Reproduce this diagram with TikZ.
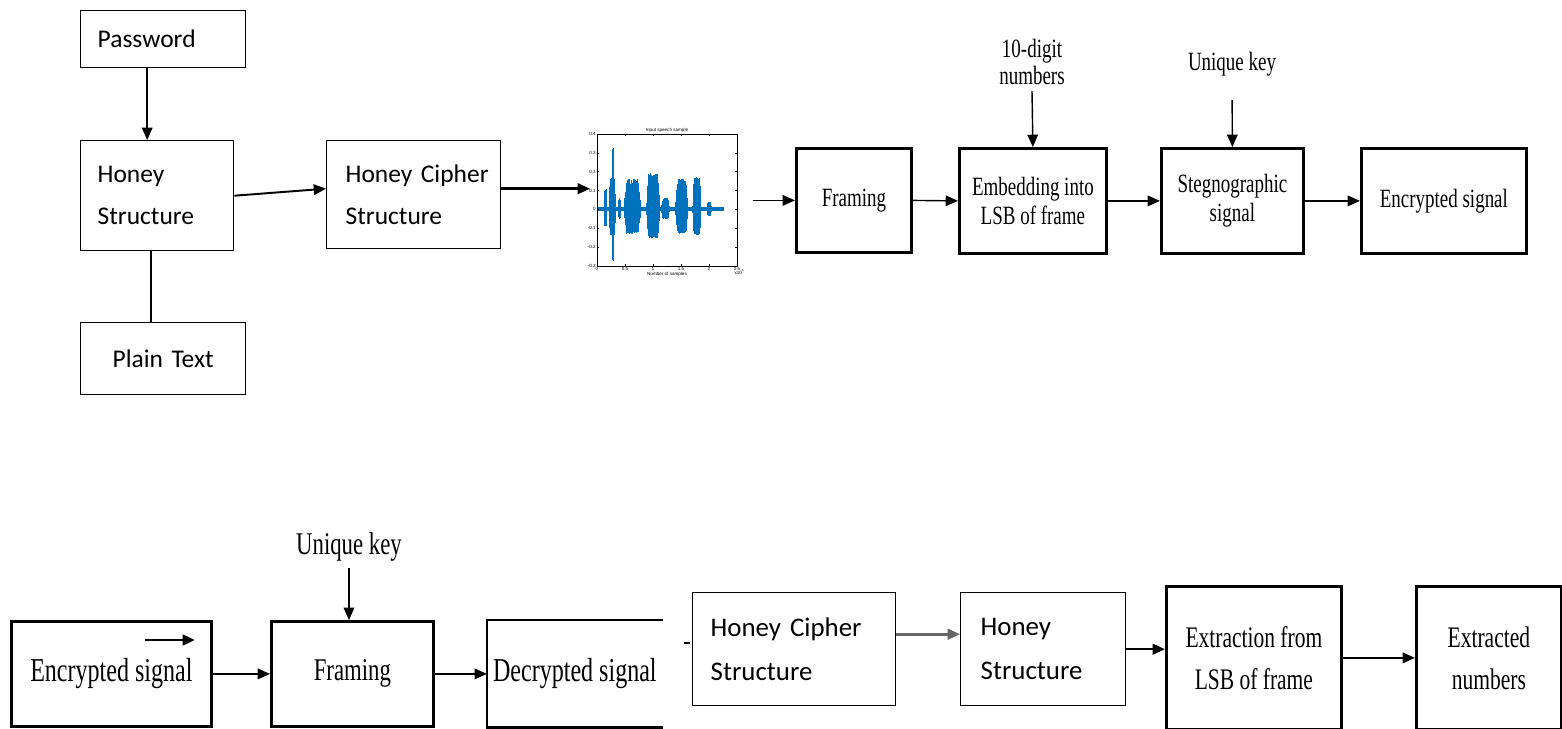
\documentclass[tikz,border=0pt]{standalone}
\usepackage{fontspec}
\usetikzlibrary{arrows.meta}
\newfontfamily\calib{Carlito}
\newfontfamily\tms[FakeStretch=0.72]{Liberation Serif}
\newfontfamily\arl{Liberation Sans}
\definecolor{wavec}{RGB}{0,114,189}

\begin{document}
\begin{tikzpicture}[x=0.02cm, y=-0.02cm, >={Triangle[length=7pt,width=6pt]},
  sbox/.style={draw, line width=0.8pt, anchor=north west, align=left, inner ysep=0pt, font=\calib\fontsize{14.5pt}{24pt}\selectfont},
  sboxb/.style={sbox, font=\calib\fontsize{15.3pt}{25pt}\selectfont},
  tbox/.style={draw, line width=1.6pt, anchor=north west, align=center, inner sep=0pt, font=\tms\fontsize{15pt}{16.5pt}\selectfont},
  tboxb/.style={tbox, font=\tms\fontsize{19pt}{24pt}\selectfont},
  tboxc/.style={tbox, font=\tms\fontsize{17pt}{24pt}\selectfont},
  arr/.style={->, line width=0.8pt},
  tick/.style={font=\arl\fontsize{2.6pt}{3pt}\selectfont, inner sep=0.6pt},
  declare function={bmp(\t,\c,\w,\a)=(abs(\t-\c)<\w)*\a*min(1,2*cos(90*(\t-\c)/\w));}]
\useasboundingbox (0,0) rectangle (1562,728);

% encryption side
\node[sbox, minimum height=1.14cm, text width=2.62cm, inner xsep=0.34cm] (pw) at (80,10) {Password};
\node[sbox, minimum height=2.2cm, text width=2.38cm, inner xsep=0.34cm] (hs) at (80,140) {Honey\\Structure};
\node[sbox, minimum height=1.44cm, text width=2.62cm, inner xsep=0.34cm, align=center] (pt) at (80,322) {Plain Text};
\node[sbox, minimum height=2.16cm, text width=3.2cm, inner xsep=0.14cm] (hcs) at (326,140) {\hspace*{0.24cm}Honey Cipher\\\hspace*{0.24cm}Structure};
\node[minimum width=3.04cm, minimum height=3.2cm, inner sep=0pt, anchor=north west] (wave) at (590,130) {};
\node[tbox, minimum width=2.3cm, minimum height=2.08cm] (fr) at (795,147) {Framing};
\node[tbox, minimum width=2.94cm, minimum height=2.1cm] (emb) at (958,147) {Embedding into\\LSB of frame};
\node[tbox, minimum width=2.84cm, minimum height=2.1cm] (steg) at (1160,147) {Stegnographic\\signal};
\node[tbox, minimum width=3.3cm, minimum height=2.1cm] (enc) at (1360,147) {Encrypted signal};
\node[font=\tms\fontsize{15pt}{15.4pt}\selectfont, align=center] (digits) at (1032,62) {10-digit\\numbers};
\node[font=\tms\fontsize{15pt}{16pt}\selectfont] (key) at (1232,64) {Unique key};

\draw[arr] ([xshift=-0.2cm]hs.north |- pw.south) -- ([xshift=-0.2cm]hs.north);
\draw[line width=0.8pt] ([xshift=-0.12cm]hs.south) -- ([xshift=-0.12cm]hs.south |- pt.north);
\draw[->, line width=1.1pt] (hs.east) -- ([yshift=0.12cm]hcs.west);
\draw[->, line width=1.4pt] ([yshift=0.12cm]hcs.east) -- ([yshift=0.12cm]hcs.east -| wave.west);
\draw[arr] ([xshift=0.2cm]wave.east |- fr.west) -- (fr.west);
\draw[arr] (fr.east) -- (emb.west); \draw[arr] (emb.east) -- (steg.west); \draw[arr] (steg.east) -- (enc.west);
\draw[arr] (digits.south) -- (emb.north); \draw[arr, shorten <=0.36cm] (key.south) -- (steg.north);

% speech plot
\begin{scope}[shift={(597,209.4)}, x=1.12cm, y=3.772cm]
\pgfmathsetseed{3}
\foreach \t in {0,0.005,...,2.25} {
  \pgfmathsetmacro\env{0.012+bmp(\t,0.15,0.025,0.1)+bmp(\t,0.27,0.06,0.16)+bmp(\t,0.28,0.02,0.17)+bmp(\t,0.40,0.02,0.05)+bmp(\t,0.63,0.15,0.15)+bmp(\t,1.0,0.12,0.18)+bmp(\t,1.22,0.07,0.05)+bmp(\t,1.51,0.11,0.15)+bmp(\t,1.78,0.075,0.16)+bmp(\t,2.0,0.04,0.03)}
  \pgfmathsetmacro\up{\env*(0.8+0.2*rnd)} \pgfmathsetmacro\dn{-\env*(0.7+0.1*rnd)}
  \draw[wavec, line width=0.35pt] (\t,\dn) -- (\t,\up);
}
\draw[line width=0.3pt] (0,-0.3) rectangle (2.5,0.4);
\foreach \v [count=\i] in {-0.3,-0.2,-0.1,0,0.1,0.2,0.3,0.4} { \draw[line width=0.3pt] (0,\v) -- ++(0.04,0) (2.5,\v) -- ++(-0.04,0); \node[tick, left] (yl\i) at (0,\v) {\v}; };
\foreach \v [count=\i] in {0,0.5,1,1.5,2,2.5} { \draw[line width=0.3pt] (\v,-0.3) -- ++(0,0.012) (\v,0.4) -- ++(0,-0.012); \node[tick, below] (xl\i) at (\v,-0.3) {\v}; };
\node[tick, above] (ttl) at (1.25,0.4) {Input speech sample};
\node[tick, below=3pt] (xlab) at (1.25,-0.3) {Number of samples};
\node[tick, below right=1pt] (xexp) at (2.4,-0.3) {x10\textsuperscript{4}};
\end{scope}

% decryption side
\node[tboxb, minimum width=4cm, minimum height=2.1cm] (enc2) at (10,620) {Encrypted signal};
\coordinate (sa) at (145,640); \coordinate (sb) at (195,640);
\draw[->, line width=1.5pt] (sa) -- (sb);
\node[tboxb, minimum width=3.24cm, minimum height=2.1cm, font=\tms\fontsize{18pt}{24pt}\selectfont] (fr2) at (270,620) {Framing};
\node[font=\tms\fontsize{18pt}{20pt}\selectfont] (key2) at (349,547) {Unique key};
\node[tboxb, draw=none, minimum width=3.46cm, minimum height=2.1cm] (dec) at (487,620) {Decrypted signal};
\draw[line width=1.6pt] (dec.north east) -- (dec.north west) -- (dec.south west) -- (dec.south east);
\draw[arr] (enc2.east) -- (fr2.west); \draw[arr] (fr2.east) -- (dec.west);
\draw[arr] (key2.south) -- (key2.south |- fr2.north);
\coordinate (tk1) at (684,643); \coordinate (tk2) at (690,643);
\draw[line width=0.8pt] (tk1) -- (tk2);

\node[sboxb, minimum height=2.26cm, text width=3.34cm, inner xsep=0.36cm] (hcs2) at (692,592) {Honey Cipher\\Structure};
\node[sboxb, minimum height=2.26cm, text width=2.5cm, inner xsep=0.4cm] (hs2) at (960,592) {Honey\\Structure};
\node[tboxc, minimum width=3.5cm, minimum height=2.86cm] (ext) at (1165,585) {Extraction from\\LSB of frame};
\node[tboxc, minimum width=2.9cm, minimum height=2.86cm] (extn) at (1415,585) {Extracted\\numbers};
\draw[->, line width=1.6pt, black!60] ([yshift=0.3cm]hcs2.east) -- ([yshift=0.3cm]hs2.west);
\draw[->, line width=1.4pt] (hs2.east) -- (hs2.east -| ext.west);
\draw[->, line width=1.1pt] (ext.east) -- (extn.west);
\end{tikzpicture}
\end{document}
